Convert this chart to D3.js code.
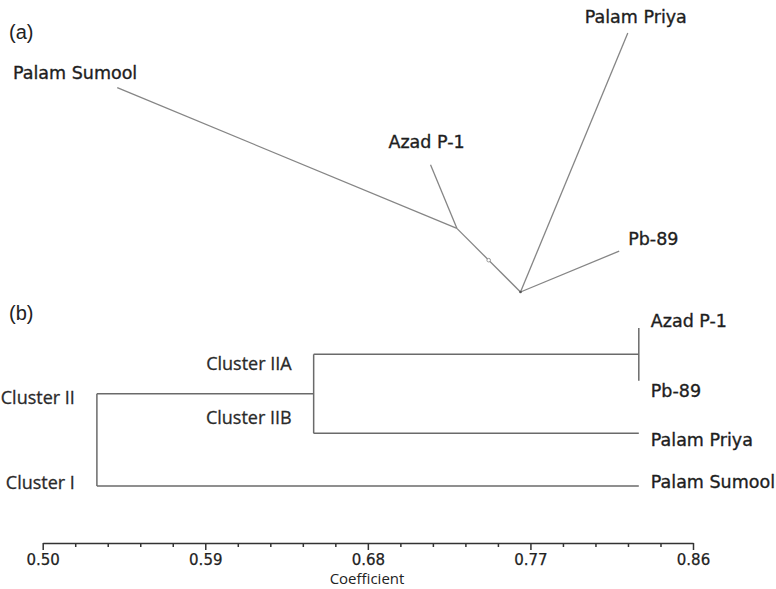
<!DOCTYPE html>
<html lang='en'>
<head>
  <meta charset='utf-8'>
  <script src="https://d3js.org/d3.v7.min.js"></script>
  <title>Cluster tree and dendrogram</title>
  <style>
    body { margin: 0; background: #fff; }
    .leaf { font-family: "DejaVu Sans", sans-serif; font-size: 17.5px; fill: #1e1e1e; stroke: #1e1e1e; stroke-width: 0.35px; }
    .cluster { font-family: "Open Sans", sans-serif; font-size: 18px; fill: #2a2a2a; stroke: #2a2a2a; stroke-width: 0.3px; }
    .panel { font-family: "Liberation Sans", Arial, sans-serif; font-size: 20px; fill: #222; }
  </style>
</head>
<body>
<div id="chart"></div>
<script>
  // ---- data: (a) unrooted tree, branches from the centre node ----
  const branchFrom   = ["root", "nodeA", "nodeA", "root", "root"];
  const branchTo     = ["nodeA", "Azad P-1", "Palam Sumool", "Palam Priya", "Pb-89"];
  const branchLength = [0.225, 0.172, 0.919, 0.701, 0.267];
  const branchAngle  = [135, 112.5, 157.5, 67.5, 22.5];

  // ---- data: (b) UPGMA dendrogram ----
  const leafNames   = ["Azad P-1", "Pb-89", "Palam Priya", "Palam Sumool"];
  const mergeNames  = ["Cluster IIA", "Cluster II", "root"];
  const mergeCoef   = [0.83, 0.65, 0.53];
  const leafCoef    = 0.83;
  const majorTicks  = [0.50, 0.59, 0.68, 0.77, 0.86];
  const minorStep   = 0.018;

  const svg = d3.select("#chart").append("svg")
      .attr("width", 776)
      .attr("height", 589);

  // ===================== (a) =====================
  svg.append("text").attr("class", "panel").attr("x", 9).attr("y", 39).text("(a)");

  const len = d3.scaleLinear().domain([0, 1]).range([0, 400]);
  const pos = {root: [520.5, 292]};
  branchTo.forEach(function(name, i) {
    const p = pos[branchFrom[i]];
    const a = branchAngle[i] * Math.PI / 180;
    pos[name] = [p[0] + len(branchLength[i]) * Math.cos(a), p[1] - len(branchLength[i]) * Math.sin(a)];
  });

  const gA = svg.append("g");
  gA.selectAll("line")
    .data(branchTo)
    .join("line")
      .attr("x1", (d, i) => pos[branchFrom[i]][0])
      .attr("y1", (d, i) => pos[branchFrom[i]][1])
      .attr("x2", d => pos[d][0])
      .attr("y2", d => pos[d][1])
      .attr("stroke", "#858585")
      .attr("stroke-width", 1.3);

  // small markers on the inner branch
  const mid = [(pos.root[0] + pos.nodeA[0]) / 2, (pos.root[1] + pos.nodeA[1]) / 2];
  gA.append("circle").attr("cx", mid[0]).attr("cy", mid[1]).attr("r", 1.8)
    .attr("fill", "#fff").attr("stroke", "#999").attr("stroke-width", 1);
  gA.append("circle").attr("cx", pos.root[0]).attr("cy", pos.root[1]).attr("r", 1.3).attr("fill", "#555");

  // label offsets from each tip
  const tipLabel = {
    "Palam Sumool": {dx: 20, dy: -9, anchor: "end"},
    "Azad P-1":     {dx: -4, dy: -17, anchor: "middle"},
    "Palam Priya":  {dx: 8, dy: -10, anchor: "middle"},
    "Pb-89":        {dx: 9, dy: -6, anchor: "start"}
  };
  gA.selectAll("text.leaf")
    .data(branchTo.filter(d => tipLabel[d]))
    .join("text")
      .attr("class", "leaf")
      .attr("x", d => pos[d][0] + tipLabel[d].dx)
      .attr("y", d => pos[d][1] + tipLabel[d].dy)
      .attr("text-anchor", d => tipLabel[d].anchor)
      .text(d => d);

  // ===================== (b) =====================
  svg.append("text").attr("class", "panel").attr("x", 9).attr("y", 320).text("(b)");

  // nested tree built from the arrays
  const leaf = n => ({name: n, coef: leafCoef});
  const treeData = {name: mergeNames[2], coef: mergeCoef[2], children: [
    {name: mergeNames[1], coef: mergeCoef[1], children: [
      {name: mergeNames[0], coef: mergeCoef[0], children: [leaf(leafNames[0]), leaf(leafNames[1])]},
      leaf(leafNames[2])
    ]},
    leaf(leafNames[3])
  ]};

  const x = d3.scaleLinear().domain([0.50, 0.86]).range([42.7, 693]);
  const y = d3.scalePoint().domain(leafNames).range([328, 486]);

  const root = d3.hierarchy(treeData);
  root.eachAfter(function(n) {
    n.px = x(n.data.coef);
    n.py = n.children ? d3.mean(n.children, c => c.py) : y(n.data.name);
  });

  const gB = svg.append("g");
  // vertical joins
  gB.selectAll("line.v")
    .data(root.descendants().filter(n => n.children))
    .join("line")
      .attr("class", "v")
      .attr("x1", d => d.px).attr("x2", d => d.px)
      .attr("y1", d => d.children[0].py)
      .attr("y2", d => d.children[d.children.length - 1].py)
      .attr("stroke", "#6a6a6a").attr("stroke-width", 1.5);
  // horizontal branches (from parent to child)
  gB.selectAll("line.h")
    .data(root.descendants().filter(n => n.parent && n.px > n.parent.px))
    .join("line")
      .attr("class", "h")
      .attr("x1", d => d.parent.px).attr("x2", d => d.px)
      .attr("y1", d => d.py).attr("y2", d => d.py)
      .attr("stroke", "#6a6a6a").attr("stroke-width", 1.5);

  // leaf labels
  const leafDy = {"Azad P-1": -1, "Pb-89": 16, "Palam Priya": 13, "Palam Sumool": 2};
  gB.selectAll("text.leaf")
    .data(root.leaves())
    .join("text")
      .attr("class", "leaf")
      .attr("x", d => d.px + 12)
      .attr("y", d => d.py + leafDy[d.data.name])
      .text(d => d.data.name);

  // cluster labels, placed beside the branch they name
  const nodeBy = {};
  root.descendants().forEach(n => nodeBy[n.data.name] = n);
  const clusterLabels = [
    {text: "Cluster IIA", node: "Cluster IIA", dy: 15.5},
    {text: "Cluster IIB", node: "Palam Priya", dy: -9.5},
    {text: "Cluster II",  node: "Cluster II",  dy: 10.5},
    {text: "Cluster I",   node: "Palam Sumool", dy: 2.5}
  ];
  gB.selectAll("text.cluster")
    .data(clusterLabels)
    .join("text")
      .attr("class", "cluster")
      .attr("text-anchor", "end")
      .attr("x", d => nodeBy[d.node].parent.px - 22)
      .attr("y", d => nodeBy[d.node].py + d.dy)
      .text(d => d.text);

  // axis
  const axisY = 543;
  const minor = d3.range(0.50, 0.8601, minorStep).filter(v => !majorTicks.some(m => Math.abs(m - v) < 1e-6));
  const gMinor = svg.append("g")
      .attr("transform", `translate(0, ${axisY})`)
      .call(d3.axisBottom(x).tickValues(minor).tickSize(4).tickSizeOuter(0).tickFormat(""));
  gMinor.select(".domain").remove();
  const gAxis = svg.append("g")
      .attr("transform", `translate(0, ${axisY})`)
      .call(d3.axisBottom(x).tickValues(majorTicks).tickSize(7).tickSizeOuter(0).tickPadding(4).tickFormat(d3.format(".2f")));
  gAxis.selectAll("text")
    .attr("font-family", "DejaVu Sans, sans-serif").attr("font-size", 15)
    .attr("fill", "#222").attr("stroke", "#222").attr("stroke-width", 0.25);
  svg.selectAll(".domain, .tick line").attr("stroke", "#333").attr("stroke-width", 1.5);

  svg.append("text")
    .attr("x", 367).attr("y", 584)
    .attr("text-anchor", "middle")
    .attr("font-family", "Open Sans, sans-serif")
    .attr("font-size", 15)
    .attr("fill", "#222")
    .text("Coefficient");
</script>
</body>
</html>
